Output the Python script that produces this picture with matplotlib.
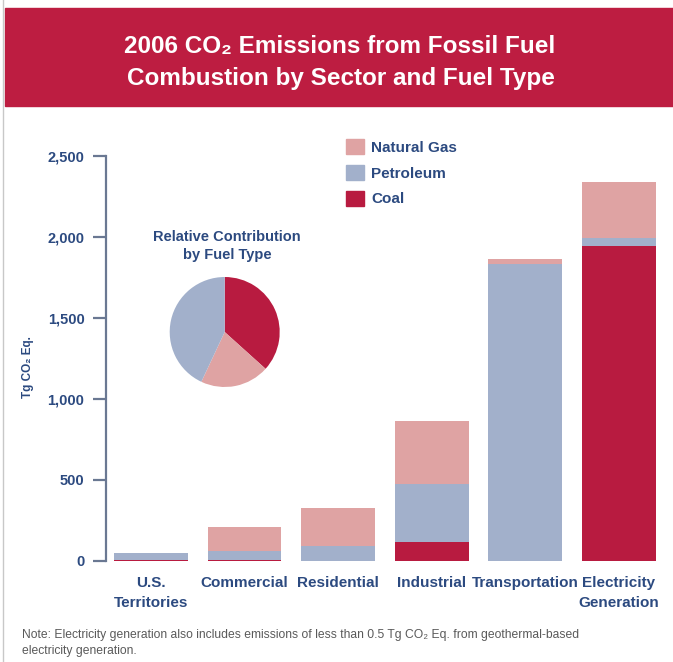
import matplotlib
matplotlib.use("Agg")
import matplotlib.pyplot as plt
from matplotlib.patches import Rectangle, Patch
from matplotlib.lines import Line2D

sectors = ["U.S.\nTerritories", "Commercial", "Residential", "Industrial",
           "Transportation", "Electricity\nGeneration"]
coal = [4, 6, 1, 119, 0, 1943]
petroleum = [45, 58, 92, 356, 1833, 48]
natural_gas = [2, 144, 232, 391, 30, 349]
yticks = [0, 500, 1000, 1500, 2000, 2500]
ytick_labels = ["0", "500", "1,000", "1,500", "2,000", "2,500"]

RED = "#bd1d41"
COAL = "#b81b40"
PETRO = "#a2b0cb"
GAS = "#dfa3a3"
NAVY = "#2c4a80"
SPINE = "#6a7892"

plt.rcParams["font.family"] = ["Liberation Sans", "DejaVu Sans"]

W, H = 673, 662
fig = plt.figure(figsize=(W / 100, H / 100), dpi=100)
fig.patch.set_facecolor("white")

def fx(px):
    return px / W

def fy(py):
    return 1 - py / H

# title band
fig.patches.append(Rectangle((fx(5), fy(106)), 1 - fx(5), fy(8) - fy(106),
                             transform=fig.transFigure, color=RED, zorder=0))
fig.text(fx(340), fy(46), "2006 CO\u2082 Emissions from Fossil Fuel",
         ha="center", va="center", color="white", fontsize=17.5, fontweight="bold")
fig.text(fx(341), fy(79), "Combustion by Sector and Fuel Type",
         ha="center", va="center", color="white", fontsize=17.5, fontweight="bold")
fig.lines.append(Line2D([fx(3), fx(3)], [0, 1], transform=fig.transFigure,
                        color="#c8c8c8", lw=1))

# main bars
ax = fig.add_axes([fx(106), fy(561), fx(665.7) - fx(106), fy(155.7) - fy(561)])
x = list(range(len(sectors)))
bw = 0.79
ax.bar(x, coal, bw, color=COAL, label="Coal")
ax.bar(x, petroleum, bw, bottom=coal, color=PETRO, label="Petroleum")
base = [c + p for c, p in zip(coal, petroleum)]
ax.bar(x, natural_gas, bw, bottom=base, color=GAS, label="Natural Gas")

ax.set_xlim(-0.48, 5.5)
ax.set_ylim(0, 2500)
ax.set_yticks(yticks)
ax.set_yticklabels(ytick_labels)
ax.set_xticks(x)
ax.set_xticklabels(sectors, linespacing=1.5)
for s in ["top", "right", "bottom"]:
    ax.spines[s].set_visible(False)
ax.spines["left"].set_color(SPINE)
ax.spines["left"].set_linewidth(1.6)
ax.tick_params(axis="y", length=9.5, width=1.6, color=SPINE, pad=6,
               labelsize=10.5, labelcolor=NAVY)
ax.tick_params(axis="x", length=0, pad=11, labelsize=11, labelcolor=NAVY)
for t in ax.get_yticklabels() + ax.get_xticklabels():
    t.set_fontweight("bold")
ax.set_facecolor("none")

fig.text(fx(28), fy(367), "Tg CO\u2082 Eq.", rotation=90, ha="center", va="center",
         color=NAVY, fontsize=8.5, fontweight="bold")

# legend
handles = [Patch(color=GAS), Patch(color=PETRO), Patch(color=COAL)]
leg = fig.legend(handles, ["Natural Gas", "Petroleum", "Coal"],
                 loc="upper left", bbox_to_anchor=(fx(340), fy(133)),
                 frameon=False, fontsize=11, handlelength=1.2, handleheight=1.1,
                 handletextpad=0.45, labelspacing=0.68, borderaxespad=0)
for t in leg.get_texts():
    t.set_color(NAVY)
    t.set_fontweight("bold")

# pie of fuel totals
totals = [sum(coal), sum(natural_gas), sum(petroleum)]
pax = fig.add_axes([fx(169.7), fy(387), fx(279.7) - fx(169.7), fy(277) - fy(387)])
pax.pie(totals, colors=[COAL, GAS, PETRO], startangle=90, counterclock=False,
        wedgeprops=dict(linewidth=0))
pax.set_xlim(-1, 1)
pax.set_ylim(-1, 1)
pax.set_aspect("equal")
fig.text(fx(227), fy(246), "Relative Contribution\nby Fuel Type", ha="center",
         va="center", color=NAVY, fontsize=10.5, fontweight="bold", linespacing=1.45)

fig.text(fx(22), fy(643),
         "Note: Electricity generation also includes emissions of less than 0.5 Tg CO\u2082 Eq. from geothermal-based\nelectricity generation.",
         ha="left", va="center", color="#5a5a5a", fontsize=8.7, linespacing=1.45)

fig.savefig("out.png", dpi=100)
